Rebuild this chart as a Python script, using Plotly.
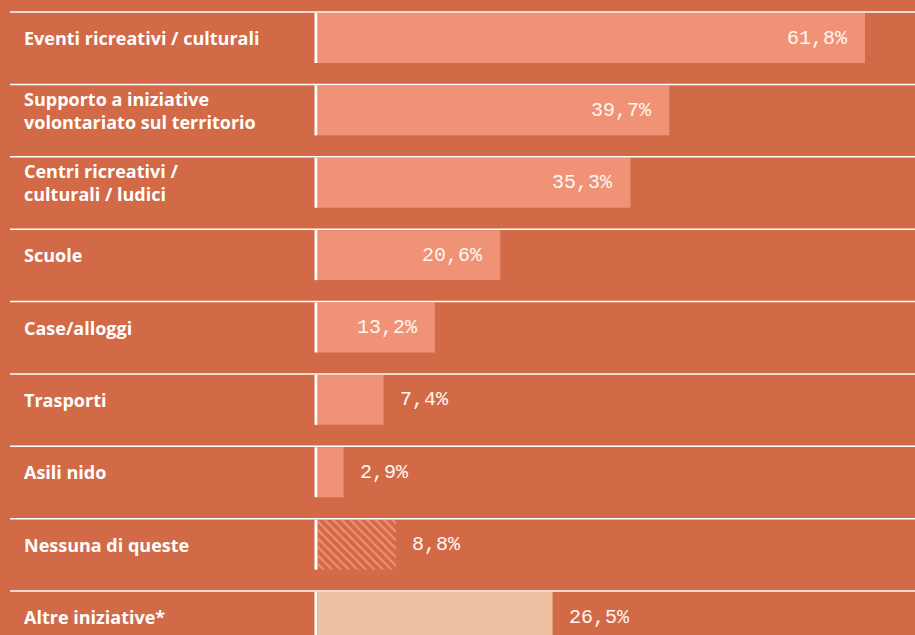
import plotly.graph_objects as go

# data, top to bottom
categories = [
    "Eventi ricreativi / culturali",
    "Supporto a iniziative<br>volontariato sul territorio",
    "Centri ricreativi /<br>culturali / ludici",
    "Scuole",
    "Case/alloggi",
    "Trasporti",
    "Asili nido",
    "Nessuna di queste",
    "Altre iniziative*",
]
values = [61.8, 39.7, 35.3, 20.6, 13.2, 7.4, 2.9, 8.8, 26.5]
value_labels = ["61,8%", "39,7%", "35,3%", "20,6%", "13,2%", "7,4%", "2,9%", "8,8%", "26,5%"]

BG = "#D36A47"
BAR = "#F09276"
BEIGE = "#EDC1A2"
TEXT = "#FFF6F0"

HATCHED = "Nessuna di queste"
OTHER = "Altre iniziative*"

rows = list(range(len(categories)))
solid = [i for i, c in enumerate(categories) if c != HATCHED]
hatched = [i for i, c in enumerate(categories) if c == HATCHED]

fig = go.Figure()
fig.add_trace(go.Bar(
    x=[values[i] for i in solid],
    y=solid,
    orientation="h",
    width=0.69,
    marker=dict(
        color=[BEIGE if categories[i] == OTHER else BAR for i in solid],
        line=dict(width=0),
    ),
    hoverinfo="skip",
))
fig.add_trace(go.Bar(
    x=[values[i] for i in hatched],
    y=hatched,
    orientation="h",
    width=0.69,
    marker=dict(
        color=BG,
        line=dict(width=0),
        pattern=dict(shape="\\", fgcolor=BAR, bgcolor=BG, fillmode="overlay",
                     size=6, solidity=0.35, fgopacity=1),
    ),
    hoverinfo="skip",
))

PITCH = 72.375  # px per row
shapes = []
annotations = []
bar_half = 25 / PITCH
for i, (cat, v, lab) in zip(rows, zip(categories, values, value_labels)):
    # row separator
    shapes.append(dict(
        type="line", xref="paper", yref="y", x0=10 / 915, x1=1,
        y0=i - 26 / PITCH, y1=i - 26 / PITCH,
        line=dict(color="white", width=1.5), layer="above",
    ))
    # white tick beside bar start
    shapes.append(dict(
        type="rect", xref="x", yref="y", xsizemode="pixel", xanchor=0,
        x0=-3.5, x1=-0.5, y0=i - bar_half, y1=i + bar_half,
        fillcolor="white", line=dict(width=0), layer="above",
    ))
    # category label
    annotations.append(dict(
        xref="paper", yref="y", x=22 / 915, y=i, text=cat,
        xanchor="left", yanchor="middle", align="left", showarrow=False,
        font=dict(family="Open Sans", size=18, color="white", weight="bold"),
    ))
    inside = v >= 10 and cat != OTHER
    annotations.append(dict(
        xref="x", yref="y", x=v, y=i, text=lab, showarrow=False,
        xanchor="right" if inside else "left", yanchor="middle",
        xshift=-15 if inside else 14,
        font=dict(family="Liberation Mono", size=20, color=TEXT),
    ))

fig.update_layout(
    width=915,
    height=635,
    margin=dict(l=0, r=0, t=0, b=0),
    paper_bgcolor=BG,
    plot_bgcolor=BG,
    showlegend=False,
    barmode="overlay",
    xaxis=dict(range=[-318 / 8.851, 597 / 8.851], visible=False, fixedrange=True),
    yaxis=dict(
        range=[(635 - 38) / PITCH, -38 / PITCH],
        visible=False,
        fixedrange=True,
    ),
    shapes=shapes,
    annotations=annotations,
)

fig.write_html(
    "out.html",
    config={"displayModeBar": False},
    post_script="document.body.style.margin = '0';",
)
